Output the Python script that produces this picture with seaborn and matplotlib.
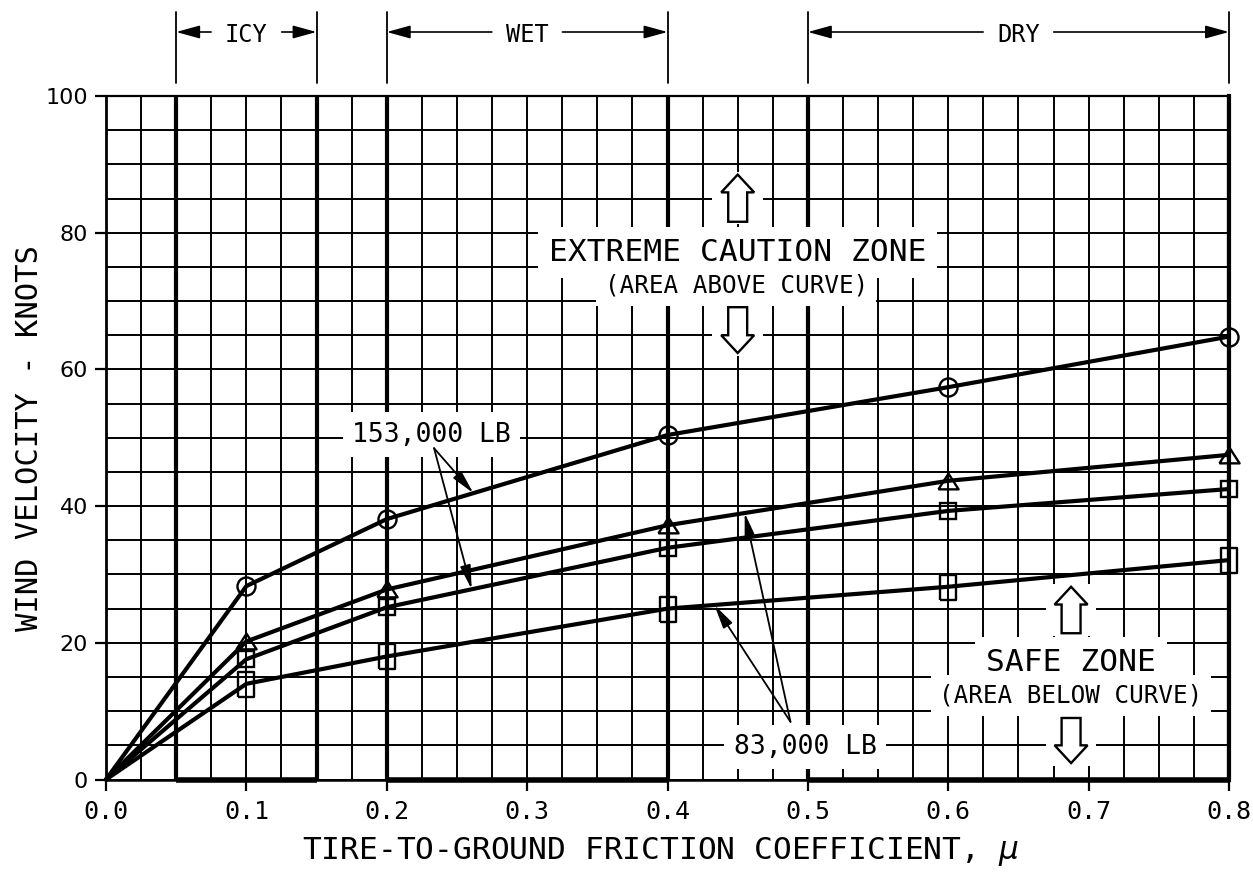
import numpy as np
import pandas as pd
import matplotlib
matplotlib.use("Agg")
import matplotlib.pyplot as plt
from matplotlib.patches import FancyArrow, Rectangle
import seaborn as sns

# ---- data -------------------------------------------------------------
mu = [0.0, 0.1, 0.2, 0.4, 0.6, 0.8]

# crosswind limits (knots) for each curve
wind_153k_circle = [0, 28.3, 38.1, 50.4, 57.4, 64.8]
wind_83k_triangle = [0, 20.2, 27.8, 37.2, 43.7, 47.5]
wind_153k_square = [0, 17.6, 25.2, 33.9, 39.3, 42.5]
wind_83k_square = [0, 14.0, 18.0, 25.0, 28.2, 32.1]

x_ticks = [0.0, 0.1, 0.2, 0.3, 0.4, 0.5, 0.6, 0.7, 0.8]
y_ticks = [0, 20, 40, 60, 80, 100]

surface_names = ["ICY", "WET", "DRY"]
surface_bounds = [(0.05, 0.15), (0.2, 0.4), (0.5, 0.8)]

weight_labels = ["153,000 LB", "83,000 LB"]

# ---- style ------------------------------------------------------------
sns.set_theme(style="white")
plt.rcParams["font.family"] = ["DejaVu Sans Mono", "DejaVu Sans"]
plt.rcParams["mathtext.fontset"] = "dejavusans"
plt.rcParams["text.color"] = "black"
plt.rcParams["axes.labelcolor"] = "black"
plt.rcParams["xtick.bottom"] = True
plt.rcParams["ytick.left"] = True

W, H = 1253, 880
fig = plt.figure(figsize=(W / 100, H / 100), dpi=100)
ax = fig.add_axes([106 / W, 1 - 779.5 / H, 1123 / W, 683.5 / H])

# ---- curves -----------------------------------------------------------
tri_marker = [(-1, -0.78), (1, -0.78), (0, 0.78), (-1, -0.78)]
rect_marker = [(-0.62, -1), (0.62, -1), (0.62, 1), (-0.62, 1), (-0.62, -1)]

series = [
    (wind_153k_circle, "o", 13),
    (wind_83k_triangle, tri_marker, 14.5),
    (wind_153k_square, "s", 11.5),
    (wind_83k_square, rect_marker, 18),
]
for values, marker, size in series:
    df = pd.DataFrame({"mu": mu, "wind": values})
    sns.lineplot(data=df, x="mu", y="wind", ax=ax, color="black", lw=3.0,
                 marker=marker, markersize=size,
                 markevery=list(range(1, len(mu))),
                 markerfacecolor="none", markeredgecolor="black",
                 markeredgewidth=1.7, zorder=4, clip_on=False)

ax.set_xlim(0, 0.8)
ax.set_ylim(0, 100)

ax.set_xticks(x_ticks)
ax.set_xticklabels([f"{v:.1f}" for v in x_ticks])
ax.set_yticks(y_ticks)
ax.set_yticklabels([str(v) for v in y_ticks])
ax.set_xticks(np.arange(0, 0.8001, 0.025), minor=True)
ax.set_yticks(np.arange(0, 100.1, 5), minor=True)
ax.set_axisbelow(True)
ax.grid(which="both", color="black", lw=1.4)
ax.tick_params(which="minor", length=0, bottom=False, left=False)
ax.tick_params(which="major", length=8, width=1.6, direction="out",
               color="black", labelcolor="black", bottom=True, left=True,
               top=False, right=False)
ax.tick_params(axis="x", pad=7, labelsize=18)
ax.tick_params(axis="y", pad=5, labelsize=16, labelfontfamily="DejaVu Sans")

for side, lw in (("left", 2.0), ("bottom", 1.8), ("top", 1.6), ("right", 3.0)):
    ax.spines[side].set_color("black")
    ax.spines[side].set_linewidth(lw)

# heavy rules at the surface-condition boundaries
for a, b in surface_bounds:
    for v in (a, b):
        ax.axvline(v, color="black", lw=3.0, zorder=1.5)
    ax.plot([a, b], [0, 0], color="black", lw=4.0, clip_on=False,
            solid_capstyle="butt", zorder=6)

ax.set_xlabel(r"TIRE-TO-GROUND FRICTION COEFFICIENT, $\mu$", fontsize=22.5,
              va="center", color="black")
ax.xaxis.set_label_coords(0.494, -0.106)
ax.set_ylabel("WIND VELOCITY - KNOTS", fontsize=22, va="center", color="black")
ax.yaxis.set_label_coords(-0.0677, 0.5)

# ---- zone annotations -------------------------------------------------
white_box = dict(boxstyle="square,pad=0.35", fc="white", ec="none")


def label(x, y, s, size):
    ax.text(x, y, s, fontsize=size, ha="center", va="center_baseline",
            color="black", bbox=white_box, zorder=3)


def block_arrow(xc, y_from, y_to):
    lo, hi = min(y_from, y_to), max(y_from, y_to)
    ax.add_patch(Rectangle((xc - 0.018, lo - 0.4), 0.036, hi - lo + 0.8,
                           fc="white", ec="none", zorder=3))
    ax.add_patch(FancyArrow(xc, y_from, 0, y_to - y_from, width=0.0135,
                            head_width=0.0235, head_length=2.6,
                            length_includes_head=True, fc="white",
                            ec="black", lw=1.7, zorder=3.5))


label(0.45, 77.6, "EXTREME CAUTION ZONE", 22.5)
label(0.449, 72.6, "(AREA ABOVE CURVE)", 17.5)
block_arrow(0.45, 81.6, 88.5)
block_arrow(0.45, 69.1, 62.4)

label(0.6875, 17.5, "SAFE ZONE", 22.5)
label(0.6875, 12.6, "(AREA BELOW CURVE)", 17.5)
block_arrow(0.6875, 21.4, 28.2)
block_arrow(0.6875, 9.0, 2.4)

# ---- weight call-outs -------------------------------------------------
leader = dict(arrowstyle="-|>,head_length=0.9,head_width=0.2",
              mutation_scale=16, lw=1.3, color="black", shrinkA=0, shrinkB=0)

label(0.232, 50.9, weight_labels[0], 19)
for curve, xt in ((wind_153k_circle, 0.2617), (wind_153k_square, 0.2605)):
    ax.annotate("", xy=(xt, np.interp(xt, mu, curve)),
                xytext=(0.2337, 48.47), arrowprops=leader, zorder=5)

label(0.498, 5.2, weight_labels[1], 19)
for curve, xt in ((wind_83k_triangle, 0.455), (wind_83k_square, 0.4334)):
    ax.annotate("", xy=(xt, np.interp(xt, mu, curve)),
                xytext=(0.4876, 8.44), arrowprops=leader, zorder=5)

# ---- surface-condition brackets above the frame ------------------------
trans = ax.get_xaxis_transform()
y_top = (779.5 - 12) / 683.5
y_bot = (779.5 - 83) / 683.5
y_arr = (779.5 - 32) / 683.5
px = 0.8 / 1123
bracket_arrow = dict(arrowstyle="-|>,head_length=0.8,head_width=0.22",
                     mutation_scale=18, lw=1.2, color="black",
                     shrinkA=0, shrinkB=0)
for name, (a, b) in zip(surface_names, surface_bounds):
    mid = (a + b) / 2
    for v in (a, b):
        ax.plot([v, v], [y_bot, y_top], color="black", lw=1.3,
                transform=trans, clip_on=False)
    ax.text(mid, y_arr, name, transform=trans, fontsize=17, ha="center",
            va="center_baseline", color="black")
    gap = (len(name) * 14.2 / 2 + 14) * px
    ax.annotate("", xy=(a, y_arr), xytext=(mid - gap, y_arr),
                xycoords=trans, textcoords=trans, arrowprops=bracket_arrow)
    ax.annotate("", xy=(b, y_arr), xytext=(mid + gap, y_arr),
                xycoords=trans, textcoords=trans, arrowprops=bracket_arrow)

fig.savefig("out.png", dpi=100)
